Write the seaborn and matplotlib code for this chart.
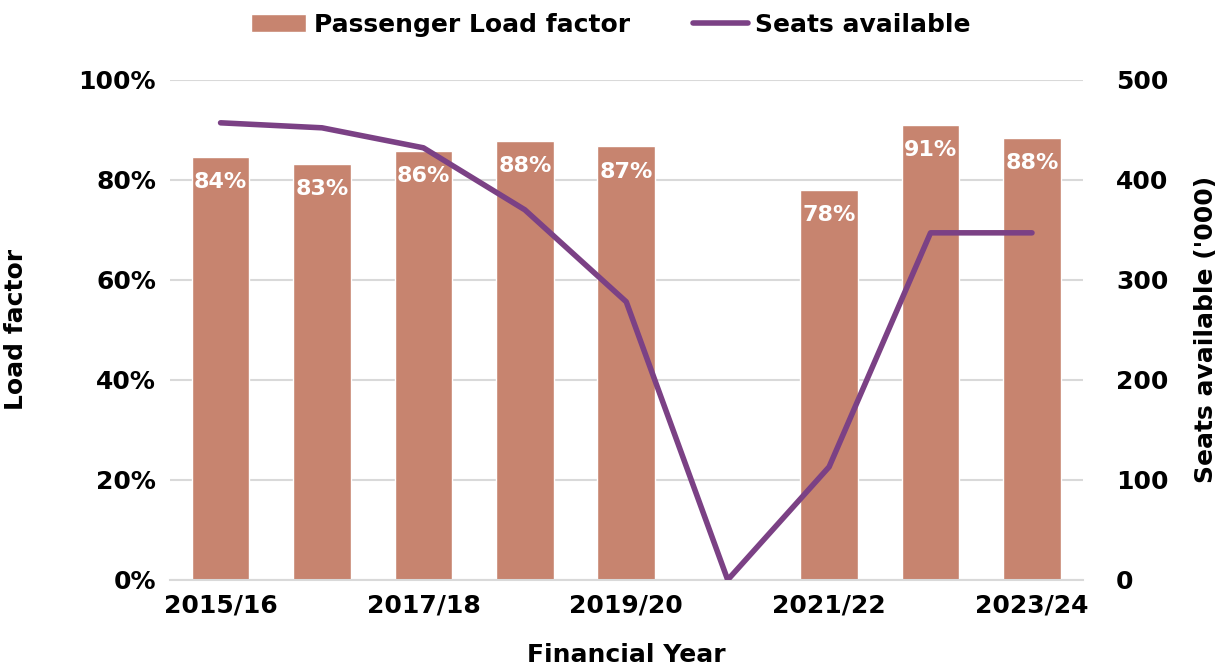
import numpy as np
import pandas as pd
import matplotlib
matplotlib.use("Agg")
import matplotlib.pyplot as plt
import seaborn as sns
from matplotlib.ticker import PercentFormatter

# --- Data ---
years = ["2015/16", "2016/17", "2017/18", "2018/19", "2019/20",
         "2020/21", "2021/22", "2022/23", "2023/24"]
load_factor = [84.6, 83.2, 85.8, 87.8, 86.7, np.nan, 78.0, 91.0, 88.4]
load_labels = ["84%", "83%", "86%", "88%", "87%", "", "78%", "91%", "88%"]
seats_000 = [457, 452, 432, 370, 278, 0, 113, 347, 347]
tick_years = ["2015/16", "2017/18", "2019/20", "2021/22", "2023/24"]

BAR_COLOR = "#C7846F"
LINE_COLOR = "#7B4185"

# --- Style ---
sns.set_theme(style="white")
plt.rcParams["font.family"] = ["DejaVu Sans"]
plt.rcParams["font.weight"] = "bold"
plt.rcParams["text.color"] = "black"
plt.rcParams["axes.labelcolor"] = "black"
plt.rcParams["xtick.color"] = "black"
plt.rcParams["ytick.color"] = "black"

df = pd.DataFrame({"year": years, "load": load_factor, "seats": seats_000})

fig = plt.figure(figsize=(12.22, 6.65), dpi=100)
ax = fig.add_axes([0.139, 0.128, 0.747, 0.752])

sns.barplot(data=df, x="year", y="load", order=years, color=BAR_COLOR,
            width=0.57, saturation=1, ax=ax, label="Passenger Load factor")
if ax.get_legend() is not None:
    ax.get_legend().remove()

for i, (v, lab) in enumerate(zip(load_factor, load_labels)):
    if lab:
        ax.annotate(lab, (i, v), xytext=(0, -11), textcoords="offset points",
                    ha="center", va="top", color="white",
                    fontsize=16, fontweight="bold")

ax.set_ylim(0, 100)
ax.set_xlim(-0.5, len(years) - 0.5)
ax.set_yticks(np.arange(0, 101, 20))
ax.yaxis.set_major_formatter(PercentFormatter(decimals=0))
ax.grid(axis="y", color="#D9D9D9", linewidth=1.5)
ax.set_axisbelow(True)
for s in ["top", "right", "left"]:
    ax.spines[s].set_visible(False)
ax.spines["bottom"].set_color("#D9D9D9")
ax.spines["bottom"].set_linewidth(1.5)

ax.set_xticks([years.index(t) for t in tick_years])
ax.set_xticklabels(tick_years)
ax.tick_params(axis="both", length=0, labelsize=18, pad=10)
for lab in ax.get_xticklabels() + ax.get_yticklabels():
    lab.set_fontweight("bold")
ax.set_xlabel("Financial Year", fontsize=18, fontweight="bold", labelpad=18)
ax.set_ylabel("Load factor", fontsize=18, fontweight="bold", labelpad=36)

ax2 = ax.twinx()
ax2.plot(np.arange(len(years)), df["seats"], color=LINE_COLOR, linewidth=4,
         solid_capstyle="round", label="Seats available")
ax2.set_ylim(0, 500)
ax2.set_yticks(np.arange(0, 501, 100))
ax2.tick_params(axis="y", length=0, labelsize=18, pad=24)
for lab in ax2.get_yticklabels():
    lab.set_fontweight("bold")
for s in ax2.spines.values():
    s.set_visible(False)
ax2.set_ylabel("Seats available ('000)", fontsize=18, fontweight="bold",
               labelpad=18)
ax2.grid(False)

h1, l1 = ax.get_legend_handles_labels()
h2, l2 = ax2.get_legend_handles_labels()
fig.legend(h1 + h2, l1 + l2, loc="upper center", bbox_to_anchor=(0.5, 1.015),
           ncol=2, frameon=False, handlelength=2.2,
           columnspacing=2.5, handletextpad=0.3,
           prop={"weight": "bold", "size": 18})

fig.savefig("out.png", dpi=100)
